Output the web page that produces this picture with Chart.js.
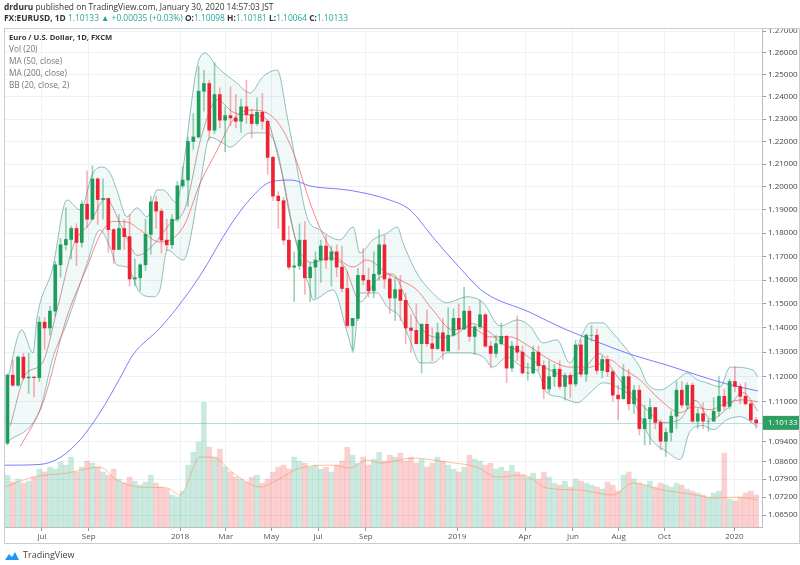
<!DOCTYPE html>
<html>
<head>
  <title>EURUSD 1D</title>
  <script src="https://cdn.jsdelivr.net/npm/chart.js"></script>
  <style>
    body { margin: 0; background: #fff; font-family: "Open Sans", Arial, sans-serif; }
    #wrap { position: relative; width: 800px; height: 565px; overflow: hidden; }
    canvas { position: absolute; left: 0; top: 0; }
    .hdr { position: absolute; left: 4px; font-size: 8.4px; line-height: 11px; color: #333; white-space: nowrap; }
    .up { color: #26a69a; }
    #frame { position: absolute; left: 4px; top: 28px; width: 796px; height: 516px; border: 1px solid #c9ccd3; box-sizing: border-box; pointer-events: none; }
    #legend { position: absolute; left: 9px; top: 31px; font-size: 8.3px; line-height: 12px; color: #777; white-space: nowrap; }
    #legend b { color: #333; font-size: 7.6px; }
    #logo { position: absolute; left: 4px; top: 548px; font-size: 9px; color: #444; }
    #logo svg { vertical-align: middle; margin-right: 3px; }
  </style>
</head>
<body>
<div id="wrap">
  <canvas id="chart" width="800" height="565"></canvas>
  <div id="frame"></div>
  <div class="hdr" style="top:1px"><b>drduru</b> published on TradingView.com, January 30, 2020 14:57:03 JST</div>
  <div class="hdr" style="top:12px"><b>FX:EURUSD, 1D</b> <span class="up">1.10133 ▲ +0.00035 (+0.03%)</span> <b>O:</b><span class="up">1.10098</span> <b>H:</b><span class="up">1.10181</span> <b>L:</b><span class="up">1.10064</span> <b>C:</b><span class="up">1.10133</span></div>
  <div id="legend">
    <b>Euro / U.S. Dollar, 1D, FXCM</b><br>
    Vol (20)<br>
    MA (50, close)<br>
    MA (200, close)<br>
    BB (20, close, 2)
  </div>
  <div id="logo"><svg width="16" height="10" viewBox="0 0 16 10"><path d="M1 9 L5 3 L8 6 L11 1 L15 9 Z" fill="#2196f3"/></svg>TradingView</div>
</div>
<script>
// weekly candles, week 0 = week of 15 May 2017
const opens = [1.0932,1.1206,1.1165,1.1280,1.1195,1.1198,1.1196,1.1424,1.1400,1.1470,
  1.1665,1.1750,1.1773,1.1820,1.1760,1.1925,1.1860,1.2035,1.1945,1.1950,
  1.1815,1.1730,1.1820,1.1785,1.1605,1.1610,1.1665,1.1795,1.1935,1.1895,
  1.1770,1.1750,1.1860,1.2005,1.2030,1.2200,1.2220,1.2425,1.2460,1.2250,
  1.2410,1.2295,1.2315,1.2305,1.2290,1.2355,1.2320,1.2280,1.2330,1.2290,
  1.2130,1.1960,1.1940,1.1770,1.1655,1.1660,1.1770,1.1610,1.1655,1.1685,
  1.1745,1.1685,1.1720,1.1655,1.1565,1.1410,1.1440,1.1620,1.1600,1.1555,
  1.1625,1.1750,1.1605,1.1525,1.1560,1.1515,1.1400,1.1390,1.1335,1.1415,
  1.1335,1.1315,1.1380,1.1305,1.1370,1.1440,1.1395,1.1470,1.1365,1.1405,
  1.1455,1.1325,1.1295,1.1335,1.1365,1.1235,1.1325,1.1300,1.1215,1.1215,
  1.1300,1.1245,1.1150,1.1200,1.1230,1.1160,1.1205,1.1170,1.1330,1.1210,
  1.1370,1.1370,1.1225,1.1270,1.1220,1.1125,1.1110,1.1200,1.1090,1.1145,
  1.0990,1.1030,1.1075,1.1015,1.0940,1.0975,1.1040,1.1145,1.1085,1.1165,
  1.1020,1.1050,1.1020,1.1020,1.1060,1.1120,1.1080,1.1180,1.1160,1.1120,
  1.1090,1.1025];
const highs = [1.1212,1.1268,1.1285,1.1296,1.1296,1.1200,1.1446,1.1443,1.1490,1.1680,
  1.1777,1.1910,1.1830,1.1840,1.1940,1.2070,1.2092,1.2040,1.2035,1.1950,
  1.1820,1.1880,1.1860,1.1880,1.1690,1.1670,1.1860,1.1960,1.1960,1.1905,
  1.1860,1.1880,1.2025,1.2090,1.2220,1.2325,1.2537,1.2520,1.2475,1.2555,
  1.2440,1.2355,1.2445,1.2410,1.2390,1.2475,1.2345,1.2395,1.2415,1.2295,
  1.2135,1.1980,1.1955,1.1830,1.1720,1.1840,1.1850,1.1675,1.1720,1.1770,
  1.1790,1.1745,1.1750,1.1745,1.1635,1.1440,1.1650,1.1735,1.1650,1.1720,
  1.1815,1.1790,1.1625,1.1610,1.1620,1.1545,1.1455,1.1500,1.1420,1.1475,
  1.1400,1.1420,1.1440,1.1485,1.1480,1.1500,1.1570,1.1490,1.1410,1.1515,
  1.1460,1.1345,1.1370,1.1420,1.1370,1.1345,1.1450,1.1325,1.1255,1.1325,
  1.1325,1.1265,1.1265,1.1250,1.1265,1.1215,1.1215,1.1350,1.1350,1.1375,
  1.1410,1.1395,1.1285,1.1285,1.1225,1.1165,1.1250,1.1230,1.1165,1.1165,
  1.1085,1.1110,1.1075,1.1025,1.0990,1.1060,1.1180,1.1180,1.1175,1.1175,
  1.1070,1.1095,1.1030,1.1115,1.1200,1.1150,1.1190,1.1240,1.1170,1.1175,
  1.1100,1.1035];
const lows = [1.0925,1.1160,1.1160,1.1187,1.1132,1.1118,1.1180,1.1312,1.1370,1.1448,
  1.1612,1.1728,1.1690,1.1662,1.1740,1.1823,1.1860,1.1837,1.1860,1.1717,
  1.1670,1.1730,1.1730,1.1575,1.1575,1.1555,1.1640,1.1710,1.1820,1.1715,
  1.1725,1.1735,1.1850,1.1995,1.1915,1.2165,1.2215,1.2335,1.2206,1.2235,
  1.2260,1.2155,1.2270,1.2260,1.2240,1.2280,1.2215,1.2270,1.2255,1.2055,
  1.1940,1.1820,1.1750,1.1645,1.1510,1.1645,1.1540,1.1510,1.1525,1.1590,
  1.1650,1.1575,1.1615,1.1550,1.1400,1.1300,1.1430,1.1580,1.1530,1.1525,
  1.1600,1.1565,1.1460,1.1430,1.1430,1.1335,1.1300,1.1335,1.1215,1.1325,
  1.1265,1.1310,1.1270,1.1305,1.1365,1.1310,1.1395,1.1345,1.1290,1.1395,
  1.1320,1.1235,1.1280,1.1330,1.1175,1.1220,1.1265,1.1210,1.1185,1.1210,
  1.1225,1.1110,1.1135,1.1160,1.1150,1.1105,1.1115,1.1160,1.1200,1.1180,
  1.1345,1.1210,1.1195,1.1200,1.1100,1.1025,1.1110,1.1065,1.1050,1.0965,
  1.0925,1.0925,1.0990,1.0905,1.0880,1.0940,1.0990,1.1075,1.1070,1.1015,
  1.0990,1.0990,1.0980,1.1020,1.1040,1.1065,1.1070,1.1140,1.1090,1.1085,
  1.1015,1.0990];
const closes = [1.1206,1.1165,1.1280,1.1195,1.1198,1.1196,1.1424,1.1400,1.1470,1.1665,
  1.1750,1.1773,1.1820,1.1760,1.1925,1.1860,1.2035,1.1945,1.1950,1.1815,
  1.1730,1.1820,1.1785,1.1605,1.1610,1.1665,1.1795,1.1935,1.1895,1.1770,
  1.1750,1.1860,1.2005,1.2030,1.2200,1.2220,1.2425,1.2460,1.2250,1.2410,
  1.2295,1.2315,1.2305,1.2290,1.2355,1.2320,1.2280,1.2330,1.2290,1.2130,
  1.1960,1.1940,1.1770,1.1655,1.1660,1.1770,1.1610,1.1655,1.1685,1.1745,
  1.1685,1.1720,1.1655,1.1565,1.1410,1.1440,1.1620,1.1600,1.1555,1.1625,
  1.1750,1.1605,1.1525,1.1560,1.1515,1.1400,1.1390,1.1335,1.1415,1.1335,
  1.1315,1.1380,1.1305,1.1370,1.1440,1.1395,1.1470,1.1365,1.1405,1.1455,
  1.1325,1.1295,1.1335,1.1365,1.1235,1.1325,1.1300,1.1215,1.1215,1.1300,
  1.1245,1.1150,1.1200,1.1230,1.1160,1.1205,1.1170,1.1330,1.1210,1.1370,
  1.1370,1.1225,1.1270,1.1220,1.1125,1.1110,1.1200,1.1090,1.1145,1.0990,
  1.1030,1.1075,1.1015,1.0940,1.0975,1.1040,1.1145,1.1085,1.1165,1.1020,
  1.1050,1.1020,1.1020,1.1060,1.1120,1.1080,1.1180,1.1160,1.1120,1.1090,
  1.1025,1.10133];
const volumes = [52,45,48,44,46,50,58, 55,60,58,65,62,70,55,60, 66,64,60,55,52,58,
  48,44,50,46,42,45,52,44,40,38,32,30, 36,62,75,85,125,80,70,78,
  60,55,50,48,45,50,52,44,48, 55,60,62,58,70,66,64,60,62,
  58,60,55,62,66,80,72,64,70,62,
  68,75,66,72,70,74,66,70,64,68,60,64,70,66,62,58,55,
  60,72,68,66,62,64,58,60,56,62,55,52,
  50,54,48,55,50,44,42,46,40,48,
  46,44,42,40,38,45,42,36,52,55,48,44,42,46,40,44,42,
  40,44,42,38,36,34,32,30,34,36,74,28,26,
  30,34,36,32];

// [week, value] pairs
const ma50 = [[2.9,1.0918],[7.2,1.1094],[11.7,1.1446],[15.5,1.1656],[17.9,1.1790],[20.4,1.1850],
  [23.0,1.1848],[25.5,1.1813],[29.2,1.1762],[33.6,1.1826],[36.8,1.2017],[40.0,1.2162],[43.0,1.2296],
  [46.2,1.2340],[49.4,1.2327],[52.4,1.2250],[55.0,1.2110],[57.5,1.1930],[60,1.1790],[62,1.1715],
  [65.6,1.1656],[68.2,1.1685],[72.0,1.1630],[74.4,1.1601],[77.6,1.1559],[80.6,1.1475],[84.4,1.1392],
  [87.6,1.1404],[91.4,1.1363],[95.1,1.1363],[98.9,1.1322],[102.7,1.1268],[106.4,1.1239],[110.2,1.1239],
  [114.0,1.1268],[115.9,1.1239],[119.6,1.1187],[123.4,1.1106],[127.2,1.1054],[129.6,1.1078],
  [132.8,1.1066],[136.0,1.1094],[139.0,1.1106],[141.8,1.1098]];
const ma200 = [[0,1.0845],[6.6,1.0848],[10.4,1.0875],[14.2,1.0946],[17.9,1.1054],[21.7,1.1194],
  [24.1,1.1288],[29.2,1.1399],[32.4,1.1483],[36.8,1.1620],[42.4,1.1831],[46.2,1.1947],[50,1.2021],
  [54,1.2030],[57.5,1.2004],[65,1.1985],[72.5,1.1943],[76.3,1.1900],[80.6,1.1783],[85.7,1.1652],
  [90.1,1.1552],[98.9,1.1465],[105,1.1400],[112.1,1.1338],[118,1.1290],[124.7,1.1247],[130.9,1.1203],
  [136,1.1170],[141.8,1.1142]];
const bbUpper = [[0.4,1.1175],[3.2,1.1392],[5.3,1.1297],[6.1,1.1446],[9,1.1650],[11.7,1.1943],
  [14.2,1.1900],[16.6,1.2061],[18.5,1.2087],[19.8,1.2061],[21.1,1.1987],[23.0,1.1870],[24.9,1.1909],
  [26.8,1.1870],[28.7,1.1987],[29.8,1.1987],[32.4,1.1930],[33.6,1.2087],[36.2,1.2535],[37.7,1.2599],
  [40.0,1.2535],[43.7,1.2462],[46.2,1.2417],[48.6,1.2490],[51.3,1.2521],[53.2,1.2309],[55.0,1.2087],
  [56.9,1.1870],[59.4,1.1813],[63.1,1.1771],[65.6,1.1826],[66.9,1.1715],[69.3,1.1771],[72.0,1.1800],
  [73.9,1.1826],[75.0,1.1758],[77.6,1.1630],[80.6,1.1546],[83.3,1.1505],[87.0,1.1530],[90.1,1.1505],
  [93.3,1.1408],[96.5,1.1433],[98.9,1.1408],[101.4,1.1338],[104.0,1.1351],[106.4,1.1256],
  [108.9,1.1380],[110.2,1.1421],[112.7,1.1421],[114.0,1.1392],[117.2,1.1309],[119.6,1.1239],
  [120.9,1.1175],[123.4,1.1146],[126.6,1.1187],[128.5,1.1215],[130.4,1.1187],[132.2,1.1175],
  [134.7,1.1158],[136.6,1.1239],[140.9,1.1227],[141.8,1.1199]];
const bbLower = [[0.4,1.0934],[6.6,1.1066],[9.1,1.1280],[11.7,1.1421],[15.5,1.1672],[17.9,1.1813],
  [19.8,1.1741],[21.1,1.1664],[23.0,1.1656],[25.5,1.1546],[27.9,1.1530],[29.2,1.1559],[30.6,1.1728],
  [33.6,1.1685],[36.8,1.2017],[38.6,1.2219],[41.1,1.2193],[42.4,1.2175],[46.2,1.2238],[49.4,1.2238],
  [51.3,1.2162],[53.7,1.1870],[55.6,1.1698],[57.5,1.1559],[58.0,1.1517],[61.8,1.1559],[64.5,1.1380],
  [65.6,1.1309],[66.9,1.1546],[70.1,1.1546],[72.0,1.1488],[74.4,1.1446],[76.3,1.1351],[78.2,1.1256],
  [80.6,1.1256],[83.3,1.1297],[87.0,1.1297],[90.1,1.1280],[91.9,1.1239],[94.6,1.1280],[97.6,1.1239],
  [100.2,1.1227],[102.1,1.1134],[104.6,1.1118],[107.8,1.1094],[110.2,1.1134],[112.7,1.1175],
  [115.3,1.1158],[118.3,1.1106],[120.9,1.0978],[122.1,1.0938],[124.7,1.0898],[127.2,1.0867],
  [129.0,1.0978],[131.5,1.1002],[133.4,1.0986],[136.0,1.1026],[138.5,1.1038],[141.8,1.0998]];
const bbBasis = [[1,1.1000],[4,1.1212],[7,1.1253],[10,1.1490],[13,1.1752],[16,1.1841],[19,1.1948],
  [22,1.1829],[25,1.1705],[28,1.1751],[31,1.1838],[34,1.1911],[37,1.2219],[40,1.2386],[43,1.2331],
  [46,1.2318],[49,1.2305],[52,1.2080],[55,1.1756],[58,1.1674],[61,1.1693],[64,1.1656],[67,1.1509],
  [70,1.1600],[73,1.1626],[76,1.1500],[79,1.1385],[82,1.1361],[85,1.1374],[88,1.1418],[91,1.1388],
  [94,1.1330],[97,1.1306],[100,1.1258],[103,1.1224],[106,1.1199],[109,1.1229],[112,1.1294],
  [115,1.1210],[118,1.1131],[121,1.1064],[124,1.1015],[127,1.1025],[130,1.1104],[133,1.1028],
  [136,1.1070],[139,1.1135],[141.8,1.1062]];
const volMa = [[0,40],[5.3,50],[11.7,54],[17.9,60],[21.1,47],[25.5,40],[30.6,39],[33,32],[36.8,70],
  [39.2,70],[43,54],[48.1,40],[51.3,47],[55.6,59],[61.8,62],[65,59],[68.2,67],[70.7,64],[76.9,69],
  [83.3,65],[88.9,60],[92.7,50],[97.6,52],[102.1,39],[108.3,37],[114.5,32],[118.3,44],[123.9,37],
  [130.4,32],[133.4,29],[137.9,30],[141.7,27]];

const tickWeeks = [7, 15.8, 33, 41.6, 50.2, 59, 68, 85.2, 98, 107, 115.6, 124.2, 137.4];
const tickLabels = ['Jul', 'Sep', '2018', 'Mar', 'May', 'Jul', 'Sep', '2019', 'Apr', 'Jun', 'Aug', 'Oct', '2020'];
const priceTicks = [1.065, 1.072, 1.079, 1.086, 1.094, 1.11, 1.12, 1.13, 1.14, 1.15, 1.16, 1.17,
  1.18, 1.19, 1.20, 1.21, 1.22, 1.23, 1.24, 1.25, 1.26, 1.27];

const UP = '#1f9d5c', DOWN = '#ee2233';
const center = i => i + 0.5;
const up = i => closes[i] >= opens[i];
const pts = arr => arr.map(p => ({ x: p[0], y: p[1] }));
const lastClose = closes[closes.length - 1];

const lastPrice = {
  id: 'lastPrice',
  beforeDatasetsDraw(chart) {
    const { ctx, chartArea, scales } = chart;
    const y = Math.round(scales.y.getPixelForValue(lastClose)) + 0.5;
    ctx.save();
    ctx.strokeStyle = 'rgba(38,166,154,0.35)';
    ctx.lineWidth = 1;
    ctx.beginPath();
    ctx.moveTo(chartArea.left, y);
    ctx.lineTo(chartArea.right, y);
    ctx.stroke();
    ctx.restore();
  },
  afterDraw(chart) {
    const { ctx, chartArea, scales } = chart;
    const y = scales.y.getPixelForValue(lastClose);
    ctx.save();
    ctx.fillStyle = '#2e9e62';
    ctx.fillRect(chartArea.right + 1, y - 7, 38, 14);
    ctx.fillStyle = '#fff';
    ctx.font = '8px "Open Sans"';
    ctx.textBaseline = 'middle';
    ctx.fillText(lastClose.toFixed(5), chartArea.right + 6, y);
    ctx.restore();
  }
};

new Chart(document.getElementById('chart'), {
  data: {
    datasets: [
      { type: 'bar', yAxisID: 'yVol', order: 8, grouped: false, barThickness: 5,
        data: volumes.map((v, i) => ({ x: center(i), y: v })),
        backgroundColor: volumes.map((v, i) => up(i) ? 'rgba(38,166,120,0.24)' : 'rgba(239,83,80,0.27)') },
      { type: 'line', yAxisID: 'yVol', order: 7, data: pts(volMa), borderColor: 'rgba(255,140,80,0.55)',
        borderWidth: 1, pointRadius: 0, cubicInterpolationMode: 'monotone' },
      { type: 'line', order: 6, data: pts(bbUpper), borderColor: 'rgba(60,140,140,0.55)', borderWidth: 1,
        pointRadius: 0, cubicInterpolationMode: 'monotone', fill: '+1', backgroundColor: 'rgba(60,170,170,0.08)' },
      { type: 'line', order: 5, data: pts(bbLower), borderColor: 'rgba(60,140,140,0.55)', borderWidth: 1,
        pointRadius: 0, cubicInterpolationMode: 'monotone' },
      { type: 'line', order: 4, data: pts(bbBasis), borderColor: 'rgba(150,105,95,0.6)', borderWidth: 1,
        pointRadius: 0, cubicInterpolationMode: 'monotone' },
      { type: 'line', order: 3, data: pts(ma200), borderColor: 'rgba(80,80,255,0.75)', borderWidth: 1,
        pointRadius: 0, cubicInterpolationMode: 'monotone' },
      { type: 'line', order: 2, data: pts(ma50), borderColor: 'rgba(240,90,90,0.7)', borderWidth: 1,
        pointRadius: 0, cubicInterpolationMode: 'monotone' },
      { type: 'bar', order: 1, grouped: false, barThickness: 1,
        data: closes.map((c, i) => ({ x: center(i), y: [lows[i], highs[i]] })),
        backgroundColor: closes.map((c, i) => up(i) ? 'rgba(31,157,92,0.45)' : 'rgba(238,34,51,0.35)') },
      { type: 'bar', order: 0, grouped: false, barThickness: 3,
        data: closes.map((c, i) => ({ x: center(i), y: [opens[i], c] })),
        backgroundColor: closes.map((c, i) => up(i) ? UP : DOWN) }
    ]
  },
  options: {
    responsive: false,
    animation: false,
    layout: { padding: { left: 4, top: 28, right: 0, bottom: 22 } },
    plugins: { legend: { display: false }, tooltip: { enabled: false } },
    scales: {
      x: {
        type: 'linear', min: -0.15, max: 142.6, offset: false,
        afterBuildTicks: s => { s.ticks = tickWeeks.map(v => ({ value: v })); },
        afterFit: s => { s.height = 16; },
        ticks: { autoSkip: false, maxRotation: 0, padding: 1, color: '#555',
          font: { family: 'Open Sans', size: 8 },
          callback: v => tickLabels[tickWeeks.indexOf(v)] },
        grid: { offset: false, color: '#eef1f6', tickLength: 4, tickColor: '#999' },
        border: { display: true, color: '#b8bcc4' }
      },
      y: {
        type: 'logarithmic', position: 'right', min: 1.0604, max: 1.2714,
        afterBuildTicks: s => { s.ticks = priceTicks.map(v => ({ value: v })); },
        afterFit: s => { s.width = 38; },
        ticks: { autoSkip: false, padding: 2, color: '#444',
          font: { family: 'Open Sans', size: 8 },
          callback: v => v.toFixed(5) },
        grid: { color: '#eef1f6', tickLength: 4, tickColor: '#999' },
        border: { display: true, color: '#b8bcc4' }
      },
      yVol: { type: 'linear', display: false, min: 0, max: 500 }
    }
  },
  plugins: [lastPrice]
});
</script>
</body>
</html>
